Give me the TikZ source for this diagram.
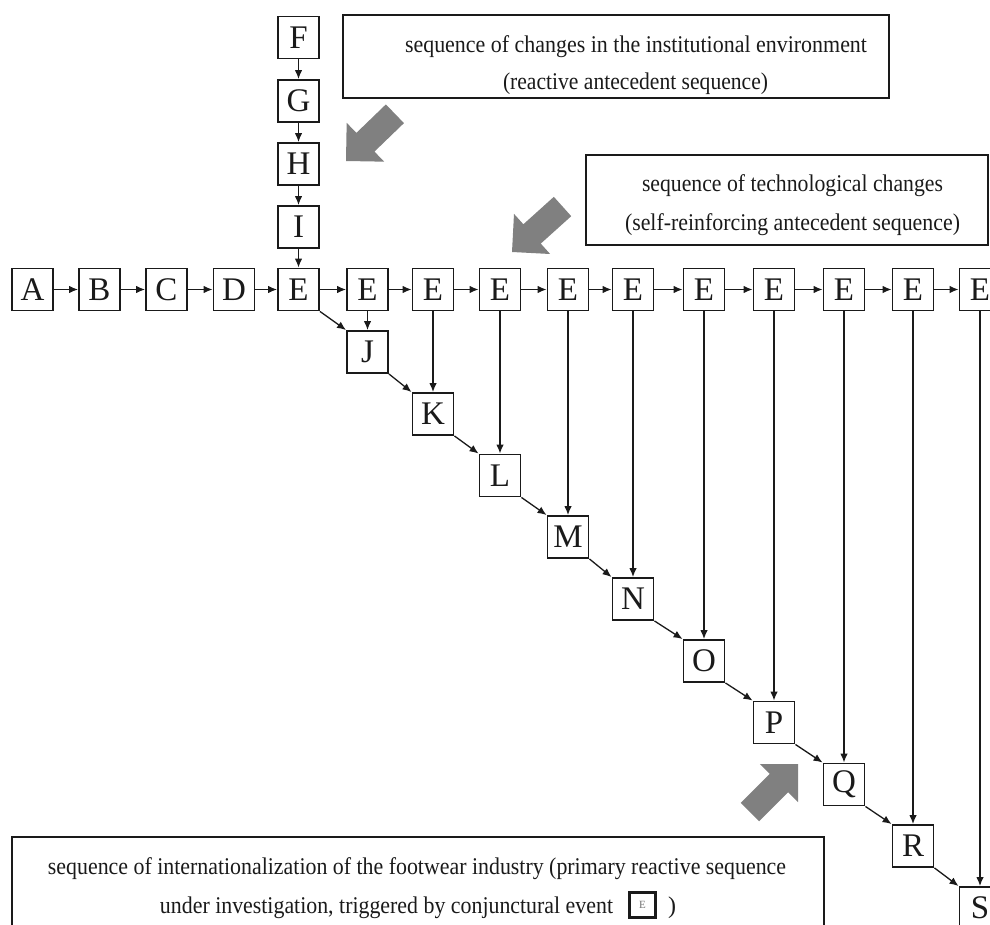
\documentclass[tikz,border=0pt]{standalone}
\usepackage{fontspec}
\setmainfont{Liberation Serif}
\usepackage{graphicx}
\usetikzlibrary{arrows.meta}
\newcommand\grayarrow[3]{\fill[arrowgray, shift={(#1,#2)}, rotate=#3] (0,0) -- (-27,27) -- (-27,13) -- (-68,13) -- (-68,-13) -- (-27,-13) -- (-27,-27) -- cycle;}
\newcommand\fitw[2]{\resizebox{#1pt}{\height}{#2}}
\definecolor{arrowgray}{HTML}{808080}
\definecolor{ink}{HTML}{1A1A1A}
\begin{document}
\begin{tikzpicture}[x=1pt,y=-1pt,
  lbox/.style={draw=ink, line width=1.9pt, minimum width=41pt, minimum height=42pt, inner sep=0pt, font=\fontsize{33}{33}\selectfont, text=ink},
  conn/.style={line width=1.3pt, draw=ink, -{Latex[length=9pt,width=7.5pt]}},
  tbox/.style={draw=ink, line width=1.9pt},
  captext/.style={anchor=base, inner sep=0pt, font=\fontsize{24}{24}\selectfont, text=ink}]
\useasboundingbox (0,0) rectangle (990,925);
\clip (0,0) rectangle (990,925);
% main row
\node[lbox] (A) at (32.5,289.5) {A};
\node[lbox] (B) at (99.5,289.5) {B};
\node[lbox] (C) at (166.5,289.5) {C};
\node[lbox] (D) at (234,289.5) {D};
\node[lbox] (E1) at (298.5,289.5) {E};
\node[lbox] (E2) at (367.5,289.5) {E};
\node[lbox] (E3) at (433,289.5) {E};
\node[lbox] (E4) at (500,289.5) {E};
\node[lbox] (E5) at (568,289.5) {E};
\node[lbox] (E6) at (633,289.5) {E};
\node[lbox] (E7) at (704,289.5) {E};
\node[lbox] (E8) at (774,289.5) {E};
\node[lbox] (E9) at (844,289.5) {E};
\node[lbox] (E10) at (913,289.5) {E};
\node[lbox] (E11) at (980,289.5) {E};
% column
\node[lbox] (F) at (298.5,37.5) {F};
\node[lbox] (G) at (298.5,101) {G};
\node[lbox] (H) at (298.5,164) {H};
\node[lbox] (I) at (298.5,227) {I};
% diagonal
\node[lbox] (J) at (367.5,352) {J};
\node[lbox] (K) at (433,414) {K};
\node[lbox] (L) at (500,475.5) {L};
\node[lbox] (M) at (568,537) {M};
\node[lbox] (N) at (633,599) {N};
\node[lbox] (O) at (704,661) {O};
\node[lbox] (P) at (774,722.5) {P};
\node[lbox] (Q) at (844,784.5) {Q};
\node[lbox] (R) at (913,846) {R};
\node[lbox] (S) at (980,908) {S};
% horizontal connectors
\foreach \a/\b in {A/B,B/C,C/D,D/E1,E1/E2,E2/E3,E3/E4,E4/E5,E5/E6,E6/E7,E7/E8,E8/E9,E9/E10,E10/E11}
  \draw[conn] (\a.east) -- (\b.west);
% vertical column
\foreach \a/\b in {F/G,G/H,H/I,I/E1}
  \draw[conn] (\a.south) -- (\b.north);
% diagonal
\foreach \a/\b in {E1/J,J/K,K/L,L/M,M/N,N/O,O/P,P/Q,Q/R,R/S}
  \draw[conn] (\a.south east) -- (\b.north west);
% verticals from E
\foreach \a/\b in {E2/J,E3/K,E4/L,E5/M,E6/N,E7/O,E8/P,E9/Q,E10/R,E11/S}
  \draw[conn] (\a.south) -- (\b.north);
% gray arrows
\grayarrow{346}{161}{224}
\grayarrow{512}{252}{222}
\grayarrow{798}{764}{45}
% text box 1
\draw[tbox] (343,15) rectangle (889,98);
\node[captext] (t1a) at (636,53) {\fitw{462}{sequence of changes in the institutional environment}};
\node[captext] (t1b) at (635.5,90) {\fitw{265}{(reactive antecedent sequence)}};
% text box 2
\draw[tbox] (586,155) rectangle (988,245);
\node[captext] (t2a) at (792.5,192) {\fitw{301}{sequence of technological changes}};
\node[captext] (t2b) at (792.5,231) {\fitw{335}{(self-reinforcing antecedent sequence)}};
% text box 3
\draw[tbox] (12,837) rectangle (824,945);
\node[captext] (t3a) at (417,874) {\fitw{738}{sequence of internationalization of the footwear industry (primary reactive sequence}};
\node[captext] (t3b) at (386.5,913) {\fitw{453}{under investigation, triggered by conjunctural event}};
\node[draw=ink, line width=2.2pt, minimum width=26pt, minimum height=25pt, inner sep=0pt, font=\fontsize{11}{11}\selectfont, text=black!55] (smallE) at (642.5,905) {E};
\node[captext] (t3c) at (672,913) {)};
\end{tikzpicture}
\end{document}
